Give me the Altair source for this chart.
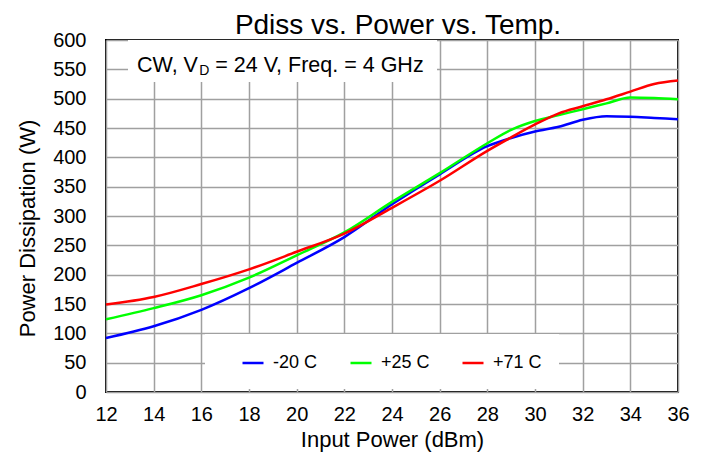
import altair as alt
import pandas as pd

# ---- data ----
x_dbm = [12, 14, 16, 18, 20, 22, 24, 26, 28, 29, 30, 31, 32, 33, 34, 35, 36]
p_m20 = [92, 112, 140, 177, 220, 264, 320, 371, 419, 433, 444, 452, 464, 470, 469, 467, 465]
p_p25 = [124, 143, 165, 195, 233, 272, 324, 373, 424, 447, 462, 472, 482, 492, 502, 501, 499]
p_p71 = [149, 162, 184, 209, 239, 270, 314, 360, 411, 434, 456, 475, 487, 499, 512, 525, 531]
series_names = ["-20 C", "+25 C", "+71 C"]
series_colors = ["#0000ff", "#00ff00", "#ff0000"]
x_ticks = [12, 14, 16, 18, 20, 22, 24, 26, 28, 30, 32, 34, 36]
y_ticks = [0, 50, 100, 150, 200, 250, 300, 350, 400, 450, 500, 550, 600]

FONT = "Liberation Sans, Arial, sans-serif"

rows = []
for name, vals in zip(series_names, [p_m20, p_p25, p_p71]):
    for xv, yv in zip(x_dbm, vals):
        rows.append({"x": xv, "y": yv, "series": name})
df = pd.DataFrame(rows)

lines = alt.Chart(df).mark_line(strokeWidth=2.5, interpolate="monotone").encode(
    x=alt.X("x:Q",
            scale=alt.Scale(domain=[12, 36], nice=False, zero=False),
            axis=alt.Axis(values=x_ticks, title="Input Power (dBm)", labelFlush=False,
                          labelPadding=12, titleBaseline="alphabetic", titleY=54)),
    y=alt.Y("y:Q",
            scale=alt.Scale(domain=[0, 600], nice=False),
            axis=alt.Axis(values=y_ticks, title="Power Dissipation (W)", labelFlush=False,
                          labelPadding=20, titleAngle=270, titleX=-79, titleY=188,
                          titleBaseline="middle", titleAlign="center")),
    color=alt.Color("series:N",
                    scale=alt.Scale(domain=series_names, range=series_colors),
                    sort=series_names,
                    legend=alt.Legend(title=None, orient="none", legendX=99, legendY=294,
                                      direction="horizontal", fillColor="white",
                                      padding=17, symbolType="stroke", symbolSize=441,
                                      symbolStrokeWidth=2.5, labelFontSize=18,
                                      labelOffset=8, columnPadding=12, symbolOffset=19,
                                      labelFont=FONT, labelColor="black")),
)

one = pd.DataFrame({"a": [0]})
box = alt.Chart(one).mark_rect(fill="white").encode(
    x=alt.value(22), x2=alt.value(331), y=alt.value(0), y2=alt.value(42))
t1 = alt.Chart(one).mark_text(align="left", baseline="alphabetic", fontSize=21.5,
                              font=FONT, color="black").encode(
    x=alt.value(31), y=alt.value(32), text=alt.value("CW, V"))
t2 = alt.Chart(one).mark_text(align="left", baseline="alphabetic", fontSize=14,
                              font=FONT, color="black").encode(
    x=alt.value(93.3), y=alt.value(35), text=alt.value("D"))
t3 = alt.Chart(one).mark_text(align="left", baseline="alphabetic", fontSize=21.5,
                              font=FONT, color="black").encode(
    x=alt.value(109.3), y=alt.value(32), text=alt.value("= 24 V, Freq. = 4 GHz"))
title = alt.Chart(one).mark_text(align="center", baseline="alphabetic", fontSize=28,
                                 font=FONT, color="black").encode(
    x=alt.value(292), y=alt.value(-6), text=alt.value("Pdiss vs. Power vs. Temp."))

chart = alt.layer(lines, box, t1, t2, t3, title).properties(
    width=572, height=352,
    autosize=alt.AutoSizeParams(type="none"),
    padding={"left": 98, "top": 32, "right": 20, "bottom": 62},
).configure_view(
    stroke="black", strokeWidth=2
).configure_axis(
    grid=True, gridColor="#a0a0a0", gridWidth=1.5, domain=False, ticks=False,
    labelFont=FONT, labelFontSize=20, labelColor="black",
    titleFont=FONT, titleFontSize=22, titleFontWeight="normal", titleColor="black",
)

chart.save("out.html", embed_options={"renderer": "svg", "actions": False})
